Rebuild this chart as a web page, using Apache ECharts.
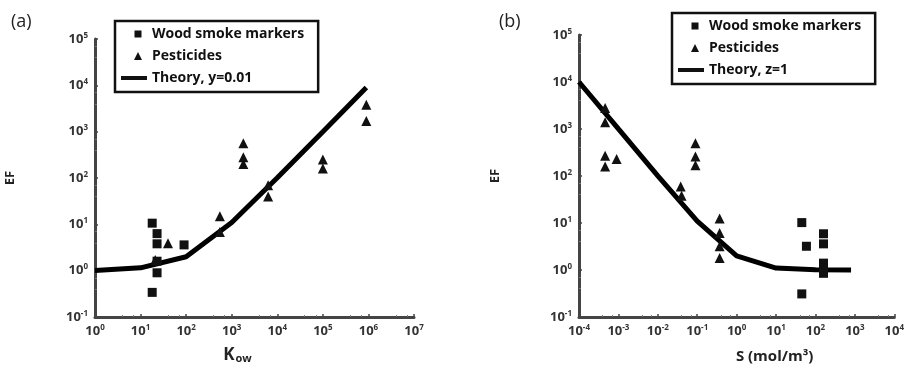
<!DOCTYPE html>
<html>
<head>
<meta charset="utf-8">
<script src="https://cdn.jsdelivr.net/npm/echarts@6/dist/echarts.min.js"></script>
<style>html,body{margin:0;padding:0;background:#fff;}#c{width:907px;height:369px;}</style>
</head>
<body>
<div id="c"></div>
<script>
// ---- Panel (a): EF vs Kow ----
const woodA = [[18, 10.6], [23, 6.3], [23, 3.8], [23, 1.6], [23, 0.9], [18, 0.34], [90, 3.6]];
const pestA = [[40, 3.9], [21, 1.7], [550, 15], [550, 6.8], [1800, 560], [1800, 280], [1800, 200],
               [6300, 70], [6300, 40], [100000, 250], [100000, 160], [900000, 3800], [900000, 1700]];
const theoryA = [[1, 1.01], [10, 1.15], [100, 2], [1000, 11], [10000, 101], [100000, 1001], [900000, 9001]];
// ---- Panel (b): EF vs S ----
const woodB = [[45, 10.2], [45, 0.31], [59, 3.2], [160, 5.9], [160, 3.6], [160, 1.4], [160, 1.1], [160, 0.85]];
const pestB = [[0.00046, 2800], [0.00046, 1400], [0.00046, 270], [0.00046, 160], [0.0009, 230],
               [0.09, 500], [0.09, 260], [0.09, 170], [0.038, 60], [0.04, 38],
               [0.37, 12.5], [0.37, 6.1], [0.37, 3.2], [0.37, 1.8]];
const theoryB = [[0.0001, 10001], [0.001, 1001], [0.01, 101], [0.1, 11], [1, 2], [10, 1.1], [100, 1.01], [800, 1.001]];
// tick label exponents
const xExpA = [0, 7];
const xExpB = [-4, 4];
const yExp = [-1, 5];
const legendA = ['Wood smoke markers', 'Pesticides', 'Theory, y=0.01'];
const legendB = ['Wood smoke markers', 'Pesticides', 'Theory, z=1'];

const chart = echarts.init(document.getElementById('c'));
const FONT = '"Open Sans", "Noto Sans", sans-serif';
const expLabel = v => '{b|10}{s|' + Math.round(Math.log10(v)) + '}';
const richTick = {
  b: { fontSize: 13, fontWeight: 'bold', color: '#333', fontFamily: FONT },
  s: { fontSize: 8, fontWeight: 'bold', color: '#333', fontFamily: FONT, padding: [0, 0, 7, 0] }
};
function logAxis(gridIndex, exps, extra) {
  return Object.assign({
    type: 'log', logBase: 10, gridIndex,
    min: Math.pow(10, exps[0]), max: Math.pow(10, exps[1]), interval: 1,
    axisLine: { show: true, lineStyle: { color: '#444', width: 3 } },
    axisTick: { show: true, inside: true, length: 3, lineStyle: { color: '#444', width: 1.5 } },
    minorTick: { show: true, splitNumber: 3, length: 2, lineStyle: { color: '#777' } },
    splitLine: { show: false },
    axisLabel: { formatter: expLabel, rich: richTick, margin: 7 }
  }, extra);
}
const ICON_SQ = 'path://M0,0 M26,10 M13.5,1.5 h7 v7 h-7 z';
const ICON_TRI = 'path://M0,0 M26,10 M17,1 L21,9 L13,9 z';
const ICON_LN = 'path://M0,0 M26,10 M0,3 h26 v4 h-26 z';
function legendItems(names) {
  return [
    { name: names[0], icon: ICON_SQ },
    { name: names[1], icon: ICON_TRI },
    { name: names[2], icon: ICON_LN }
  ];
}
const legendCommon = {
  orient: 'vertical', backgroundColor: '#fff', borderColor: '#111', borderWidth: 2.5,
  padding: [5, 14, 6, 6], itemGap: 6, itemWidth: 26, itemHeight: 10,
  itemStyle: { color: '#111', opacity: 1 },
  textStyle: { fontSize: 14, fontWeight: 'bold', color: '#111', fontFamily: FONT, lineHeight: 16 }
};
const sq = { symbol: 'rect', symbolSize: 9, itemStyle: { color: '#111', opacity: 1 } };
const tri = { symbol: 'triangle', symbolSize: 10, itemStyle: { color: '#111', opacity: 1 } };
const ln = { symbol: 'none', showSymbol: false, lineStyle: { color: '#000', width: 5 }, itemStyle: { color: '#000' }, z: 1 };
const nameStyle = { fontSize: 13, fontWeight: 'bold', color: '#222', fontFamily: FONT };

chart.setOption({
  animation: false,
  title: [
    { text: '(a)', left: 6, top: 8, textStyle: { fontSize: 18, fontWeight: 'normal', color: '#222', fontFamily: FONT } },
    { text: '(b)', left: 494, top: 8, textStyle: { fontSize: 18, fontWeight: 'normal', color: '#222', fontFamily: FONT } }
  ],
  legend: [
    Object.assign({ left: 115, top: 21, data: legendItems(legendA) }, legendCommon),
    Object.assign({ left: 672, top: 13, data: legendItems(legendB) }, legendCommon)
  ],
  grid: [
    { left: 95, top: 39, width: 319, height: 278 },
    { left: 579, top: 35, width: 316, height: 282 }
  ],
  xAxis: [
    logAxis(0, xExpA, {
      name: '{k|K}{o|ow}', nameLocation: 'middle', nameGap: 30,
      nameTextStyle: { padding: [0, 34, 0, 0], rich: {
        k: { fontSize: 17, fontWeight: 'bold', color: '#222', fontFamily: FONT },
        o: { fontSize: 11, fontWeight: 'bold', color: '#222', fontFamily: FONT, padding: [6, 0, 0, 1] } } }
    }),
    logAxis(1, xExpB, {
      name: 'S (mol/m³)', nameLocation: 'middle', nameGap: 32,
      nameTextStyle: { padding: [0, 0, 0, 76], fontSize: 15, fontWeight: 'bold', color: '#222', fontFamily: FONT }
    })
  ],
  yAxis: [
    logAxis(0, yExp, { name: 'EF', nameLocation: 'middle', nameMoveOverlap: false, nameGap: 78, nameRotate: 90, nameTextStyle: nameStyle }),
    logAxis(1, yExp, { name: 'EF', nameLocation: 'middle', nameMoveOverlap: false, nameGap: 77, nameRotate: 90, nameTextStyle: nameStyle })
  ],
  series: [
    Object.assign({ type: 'line', name: 'Theory, y=0.01', xAxisIndex: 0, yAxisIndex: 0, data: theoryA }, ln),
    Object.assign({ type: 'scatter', name: 'Wood smoke markers', xAxisIndex: 0, yAxisIndex: 0, data: woodA }, sq),
    Object.assign({ type: 'scatter', name: 'Pesticides', xAxisIndex: 0, yAxisIndex: 0, data: pestA }, tri),
    Object.assign({ type: 'line', name: 'Theory, z=1', xAxisIndex: 1, yAxisIndex: 1, data: theoryB }, ln),
    Object.assign({ type: 'scatter', name: 'Wood smoke markers', xAxisIndex: 1, yAxisIndex: 1, data: woodB }, sq),
    Object.assign({ type: 'scatter', name: 'Pesticides', xAxisIndex: 1, yAxisIndex: 1, data: pestB }, tri)
  ]
});
</script>
</body>
</html>
